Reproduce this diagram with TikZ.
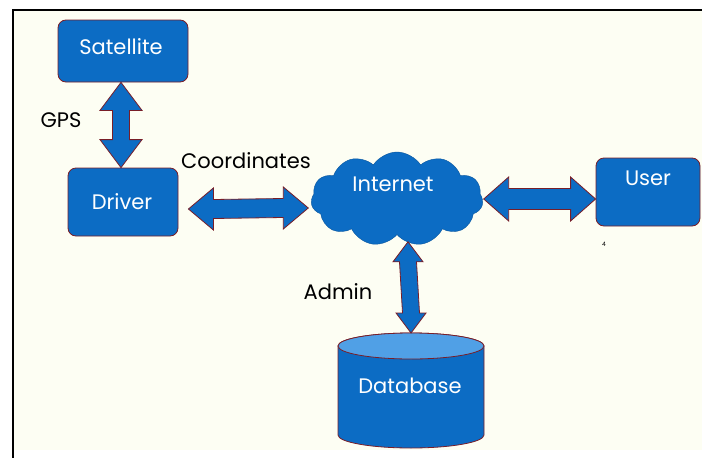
\documentclass[tikz,border=0pt]{standalone}
\usepackage{fontspec}
\setmainfont{Poppins}
\usetikzlibrary{shapes.symbols,shapes.geometric,calc}
\definecolor{boxblue}{RGB}{12,108,196}
\definecolor{lightblue}{RGB}{80,160,230}
\definecolor{edgered}{RGB}{120,30,40}
\definecolor{cream}{RGB}{253,254,243}
\tikzset{
  blockbox/.style={draw=edgered, line width=0.8pt, fill=boxblue, rounded corners=8pt},
  boxtext/.style={text=white, font=\fontsize{21}{24}\selectfont},
  lbl/.style={text=black, font=\fontsize{21}{24}\selectfont},
  barrow/.style={draw=edgered, line width=0.8pt, fill=boxblue, line join=miter},
}
% vertical double block arrow from (#1) (top tip) to (#2) (bottom tip)
\newcommand{\vblockarrow}[5]{% #1 top, #2 bottom, #3 head half width, #4 shaft half width, #5 head length
  \draw[barrow] (#1) -- ($(#1)+(#3,#5)$) -- ($(#1)+(#4,#5)$) -- ($(#2)+(#4,-#5)$) -- ($(#2)+(#3,-#5)$)
    -- (#2) -- ($(#2)+(-#3,-#5)$) -- ($(#2)+(-#4,-#5)$) -- ($(#1)+(-#4,#5)$) -- ($(#1)+(-#3,#5)$) -- cycle;}
\newcommand{\hblockarrow}[5]{% #1 left, #2 right
  \draw[barrow] (#1) -- ($(#1)+(#5,#3)$) -- ($(#1)+(#5,#4)$) -- ($(#2)+(-#5,#4)$) -- ($(#2)+(-#5,#3)$)
    -- (#2) -- ($(#2)+(-#5,-#3)$) -- ($(#2)+(-#5,-#4)$) -- ($(#1)+(#5,-#4)$) -- ($(#1)+(#5,-#3)$) -- cycle;}
\begin{document}
\begin{tikzpicture}[x=1pt,y=-1pt]
\useasboundingbox (0,0) rectangle (702,458);
\fill[white] (0,0) rectangle (702,458);
\fill[cream] (14,11) rectangle (702,450);
\draw[black, line width=2pt] (13,458) -- (13,10) -- (702,10);

% boxes
\node[blockbox, minimum width=130pt, minimum height=62pt] (sat) at (123,51) {};
\node[boxtext] at (121,47) {Satellite};
\node[blockbox, minimum width=110pt, minimum height=68pt] (drv) at (123,202) {};
\node[boxtext] at (122,202) {Driver};
\node[blockbox, minimum width=104pt, minimum height=68pt] (usr) at (648,192) {};
\node[boxtext] at (648,178) {User};

% cloud
\node[cloud, cloud puffs=11, cloud puff arc=115, aspect=1.9, draw=boxblue!80!black, line width=0.4pt, fill=boxblue,
      minimum width=172pt, minimum height=94pt] (net) at (397,199) {};
\node[boxtext] at (393,184) {Internet};

% database cylinder
\coordinate (dbtop) at (411,333);
\draw[draw=edgered, line width=0.8pt, fill=boxblue]
  (338,346) -- (338,435) arc[start angle=180, end angle=360, x radius=73pt, y radius=13pt]
  -- (484,346) arc[start angle=0, end angle=180, x radius=73pt, y radius=13pt] -- cycle;
\draw[draw=edgered, line width=0.8pt, fill=lightblue] (411,346) ellipse[x radius=73pt, y radius=13pt];
\node[boxtext] (db) at (410,386) {Database};

% arrows
\coordinate (usrin) at (usr.west |- net.east);
\vblockarrow{$(sat.south)+(-2,0)$}{$(drv.north)+(-2,0)$}{21}{8.5}{28}
\hblockarrow{$(drv.east)+(10,7)$}{$(net.west)+(-3,9)$}{21}{9.5}{25}
\hblockarrow{$(net.east)+(1,0)$}{usrin}{22}{10.5}{25}
\vblockarrow{$(net.south)+(11,7)$}{dbtop}{15}{8.5}{20}

% labels
\node[lbl] at (61,120) {GPS};
\node[lbl] at (246,161) {Coordinates};
\node[lbl] at (338,292) {Admin};
\node[text=black, font=\fontsize{6}{7}\selectfont] at (604,244) {4};
\end{tikzpicture}
\end{document}
